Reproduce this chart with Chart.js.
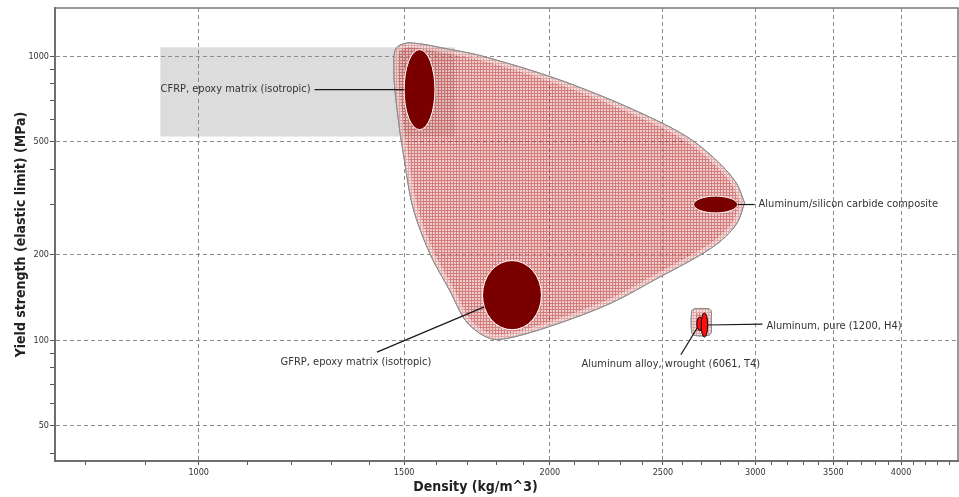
<!DOCTYPE html>
<html>
<head>
<meta charset="utf-8">
<script src="https://cdn.jsdelivr.net/npm/chart.js@4.4.0/dist/chart.umd.min.js"></script>
<style>
html, body { margin: 0; padding: 0; background: #fff; }
#wrap { width: 959px; height: 497px; }
</style>
</head>
<body>
<div id="wrap"><canvas id="chart"></canvas></div>
<script>
// axis ticks (labelled ones and the small unlabelled marks)
const densityTicks = [1000, 1500, 2000, 2500, 3000, 3500, 4000];
const densityMinor = [800, 900, 1100, 1200, 1300, 1400, 1600, 1700, 1800, 1900, 2100, 2200, 2300, 2400,
    2600, 2700, 2800, 2900, 3100, 3200, 3300, 3400, 3600, 3700, 3800, 3900, 4100, 4200, 4300, 4400];
const strengthTicks = [50, 100, 200, 500, 1000];
const strengthMinor = [40, 60, 70, 80, 90, 300, 400, 600, 700, 800, 900];

// materials: density range (kg/m^3) and yield strength range (MPa)
const materials = [
    'CFRP, epoxy matrix (isotropic)',
    'GFRP, epoxy matrix (isotropic)',
    'Aluminum/silicon carbide composite',
    'Aluminum alloy, wrought (6061, T4)',
    'Aluminum, pure (1200, H4)'
];
const densityLow = [1500, 1751, 2656, 2673, 2696];
const densityHigh = [1594, 1967, 2897, 2705, 2731];
const strengthLow = [552, 109, 281, 108.4, 102.7];
const strengthHigh = [1056, 191, 322, 120.8, 124.8];

// family envelopes (outline points)
const compositeDensity = [2937, 2896, 2807, 2687, 2484, 2263, 2051, 1858, 1776, 1697, 1641, 1578, 1526, 1496,
    1487, 1473, 1470, 1476, 1517, 1641, 1741, 1999, 2250, 2498, 2650, 2796, 2891, 2937];
const compositeStrength = [305, 260, 225, 199, 167, 136, 116, 102.5, 101.6, 116, 150, 202, 294, 467,
    549, 759, 893, 1067, 1116, 1058, 1008, 850, 706, 581, 506, 420, 357, 305];
const aluminumDensity = [2750, 2750, 2735, 2661, 2646, 2646, 2661, 2735, 2750, 2750];
const aluminumStrength = [116, 106.7, 104.1, 104.1, 106.7, 126.5, 129.1, 129.1, 126.5, 116];

const FONT = '"DejaVu Sans Condensed", "DejaVu Sans", sans-serif';
Chart.defaults.font.family = FONT;

const bubbleFill = ['#7a0000', '#7a0000', '#7a0000', '#ff1010', '#ff1010'];
const bubbleEdge = ['#ffffff', '#ffffff', '#ffffff', '#000000', '#000000'];

// where each label sits, in pixels from its bubble centre
const labelPlace = [
    { lead: [-105, 0], text: [-109, 0], align: 'right' },
    { lead: [-135, 57], text: [-156, 67], align: 'center' },
    { lead: [39, 0], text: [43, 0], align: 'left' },
    { lead: [-19, 31], text: [-29, 40], align: 'center' },
    { lead: [58, -1], text: [62, 1], align: 'left' }
];

function hatch() {
    const c = document.createElement('canvas');
    c.width = 3; c.height = 3;
    const g = c.getContext('2d');
    g.fillStyle = 'rgba(228,170,170,0.6)';
    g.fillRect(0, 0, 3, 3);
    g.clearRect(0, 0, 3, 1);
    g.clearRect(0, 1, 1, 2);
    g.fillStyle = 'rgba(185,45,45,0.62)';
    g.fillRect(0, 0, 3, 1);
    g.fillRect(0, 1, 1, 2);
    return g.createPattern(c, 'repeat');
}

function buildTicks(major, minor) {
    return major.concat(minor).sort((a, b) => a - b).map(v => ({ value: v, major: major.includes(v) }));
}

function toPoints(xs, ys) {
    return xs.map((x, i) => ({ x: x, y: ys[i] }));
}

const ashby = {
    id: 'ashby',
    beforeDraw(chart) {
        // grey box behind the selected CFRP label
        const { ctx, scales: { x, y } } = chart;
        const x1 = x.getPixelForValue(927), x2 = x.getPixelForValue(1658);
        const y1 = y.getPixelForValue(1076), y2 = y.getPixelForValue(522);
        ctx.save();
        ctx.fillStyle = '#dcdcdc';
        ctx.fillRect(x1, y1, x2 - x1, y2 - y1);
        ctx.restore();
    },
    afterDatasetsDraw(chart) {
        const { ctx, scales: { x, y } } = chart;

        // soft light rim just inside each envelope
        chart.data.datasets.forEach((ds, i) => {
            const line = chart.getDatasetMeta(i).dataset;
            ctx.save();
            ctx.beginPath();
            line.path(ctx);
            ctx.closePath();
            ctx.clip();
            ctx.lineWidth = 9;
            ctx.strokeStyle = 'rgba(255,255,255,0.35)';
            ctx.stroke();
            ctx.restore();
            ctx.save();
            ctx.beginPath();
            line.path(ctx);
            ctx.lineWidth = 1;
            ctx.strokeStyle = '#8a8a8a';
            ctx.stroke();
            ctx.restore();
        });

        const bubbles = materials.map((name, i) => {
            const x1 = x.getPixelForValue(densityLow[i]), x2 = x.getPixelForValue(densityHigh[i]);
            const y1 = y.getPixelForValue(strengthHigh[i]), y2 = y.getPixelForValue(strengthLow[i]);
            return { cx: (x1 + x2) / 2, cy: (y1 + y2) / 2, rx: (x2 - x1) / 2, ry: (y2 - y1) / 2 };
        });
        ctx.save();
        bubbles.forEach((b, i) => {
            ctx.beginPath();
            ctx.ellipse(b.cx, b.cy, b.rx, b.ry, 0, 0, 2 * Math.PI);
            ctx.fillStyle = bubbleFill[i];
            ctx.fill();
            ctx.lineWidth = 1;
            ctx.strokeStyle = bubbleEdge[i];
            ctx.stroke();
        });
        // leader lines and labels
        ctx.font = '11px ' + FONT;
        ctx.textBaseline = 'middle';
        bubbles.forEach((b, i) => {
            const p = labelPlace[i];
            const lx = b.cx + p.lead[0], ly = b.cy + p.lead[1];
            const dx = lx - b.cx, dy = ly - b.cy;
            const t = 1 / Math.sqrt((dx / b.rx) ** 2 + (dy / b.ry) ** 2);
            ctx.beginPath();
            ctx.moveTo(lx, ly);
            ctx.lineTo(b.cx + dx * t, b.cy + dy * t);
            ctx.strokeStyle = '#1a1a1a';
            ctx.lineWidth = 1.2;
            ctx.stroke();
            ctx.fillStyle = '#333';
            ctx.textAlign = p.align;
            ctx.fillText(materials[i], b.cx + p.text[0], b.cy + p.text[1]);
        });
        ctx.restore();
    },
    afterDraw(chart) {
        const { ctx, chartArea: a } = chart;
        ctx.save();
        ctx.strokeStyle = '#777';
        ctx.lineWidth = 1.5;
        ctx.beginPath();
        ctx.moveTo(a.left, a.top);
        ctx.lineTo(a.right, a.top);
        ctx.lineTo(a.right, a.bottom);
        ctx.stroke();
        // axis titles
        ctx.fillStyle = '#222';
        ctx.font = 'bold 14px ' + FONT;
        ctx.textAlign = 'center';
        ctx.textBaseline = 'middle';
        ctx.fillText('Density (kg/m^3)', chart.width / 2 - 4, 487);
        ctx.translate(21, (a.top + a.bottom) / 2);
        ctx.rotate(-Math.PI / 2);
        ctx.fillText('Yield strength (elastic limit) (MPa)', 0, 0);
        ctx.restore();
    }
};

const pattern = hatch();

new Chart(document.getElementById('chart'), {
    type: 'scatter',
    data: {
        datasets: [
            {
                label: 'Composites',
                data: toPoints(compositeDensity, compositeStrength),
                showLine: true,
                tension: 0.3,
                fill: 'shape',
                backgroundColor: pattern,
                borderColor: '#8a8a8a',
                borderWidth: 1,
                pointRadius: 0
            },
            {
                label: 'Aluminum',
                data: toPoints(aluminumDensity, aluminumStrength),
                showLine: true,
                tension: 0.3,
                fill: 'shape',
                backgroundColor: pattern,
                borderColor: '#8a8a8a',
                borderWidth: 1,
                pointRadius: 0
            }
        ]
    },
    options: {
        responsive: true,
        maintainAspectRatio: false,
        animation: false,
        events: [],
        layout: { padding: { top: 8, right: 1, left: 0, bottom: 0 } },
        plugins: {
            legend: { display: false },
            tooltip: { enabled: false }
        },
        scales: {
            x: {
                type: 'logarithmic',
                min: 753,
                max: 4476,
                afterBuildTicks: axis => { axis.ticks = buildTicks(densityTicks, densityMinor); },
                afterFit: axis => { axis.height = 36; },
                ticks: {
                    autoSkip: false,
                    maxRotation: 0,
                    padding: 2,
                    color: '#333',
                    font: { size: 9 },
                    callback: (v, i, t) => t[i].major ? String(v) : ''
                },
                grid: {
                    color: c => c.tick && c.tick.major ? '#8c8c8c' : 'rgba(0,0,0,0)',
                    tickColor: '#555',
                    tickLength: 4,
                    tickBorderDash: []
                },
                border: { color: '#6e6e6e', width: 2, dash: [4, 3] }
            },
            y: {
                type: 'logarithmic',
                min: 37.6,
                max: 1480,
                afterBuildTicks: axis => { axis.ticks = buildTicks(strengthTicks, strengthMinor); },
                afterFit: axis => { axis.width = 55; },
                ticks: {
                    autoSkip: false,
                    padding: 1,
                    color: '#333',
                    font: { size: 9 },
                    callback: (v, i, t) => t[i].major ? String(v) : ''
                },
                grid: {
                    color: c => c.tick && c.tick.major ? '#8c8c8c' : 'rgba(0,0,0,0)',
                    tickColor: '#555',
                    tickLength: 5,
                    tickBorderDash: []
                },
                border: { color: '#6e6e6e', width: 2, dash: [4, 3] }
            }
        }
    },
    plugins: [ashby]
});
</script>
</body>
</html>
